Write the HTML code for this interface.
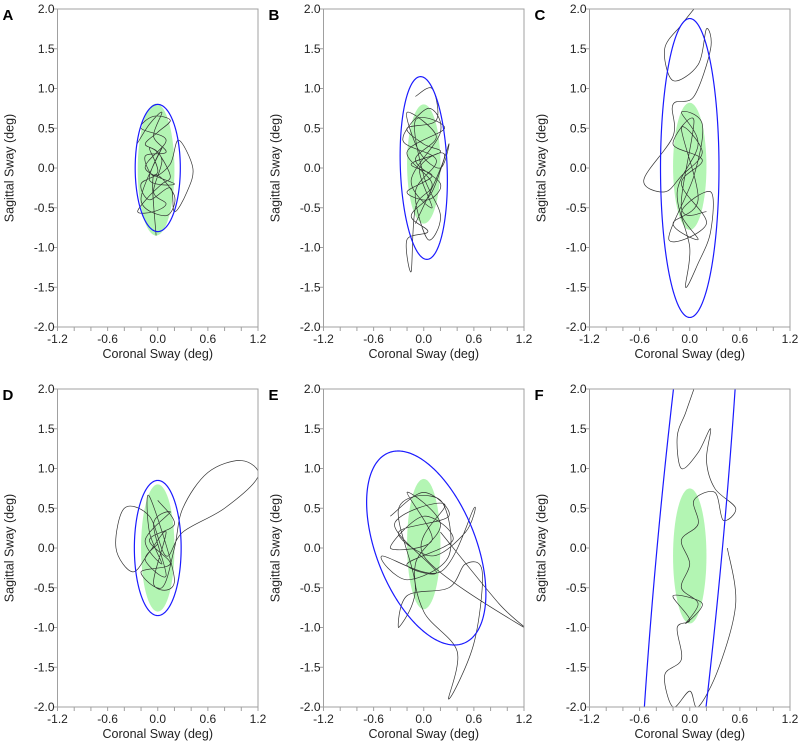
<!DOCTYPE html>
<html><head><meta charset="utf-8"><style>
html,body{margin:0;background:#fff;overflow:hidden;width:800px;height:749px;}
svg{display:block;font-family:"Liberation Sans",sans-serif;}
</style></head><body>
<svg id="fig" width="800" height="749"></svg>
<script>
const panelLabels=["A","B","C","D","E","F"];
const xTickLabels=["-1.2","-0.6","0.0","0.6","1.2"];
const xTickValues=[-1.2,-0.6,0,0.6,1.2];
const yTickValues=[2,1.5,1,0.5,0,-0.5,-1,-1.5,-2];
const yTickLabels=["2.0","1.5","1.0","0.5","0.0","-0.5","-1.0","-1.5","-2.0"];
// green ellipses: [cx, cy, rx, ry, angleDeg]
const greenEllipses=[[-0.02,-0.02,0.22,0.83,0],[0,0.05,0.2,0.75,0],[0,0.02,0.2,0.8,0],[0,0,0.2,0.8,0],[0,0.05,0.2,0.82,0],[0,-0.1,0.2,0.85,0]];
// blue 95% ellipses: [cx, cy, rx, ry, angleDeg]
const blueEllipses=[[0,0,0.27,0.8,0],[0,0,0.28,1.15,2],[0,0,0.35,1.88,0],[0,0,0.28,0.85,0],[0.03,0,0.6,1.28,20],[0,0,0.39,6,-5]];
const traceA=[[-0.25,0.3],[-0.1,0.55],[0.05,0.7],[-0.05,0.4],[0.1,0.2],[-0.15,0.15],[-0.05,-0.1],[0.15,0.05],[0.25,0.35],[0.42,0.0],[0.35,-0.3],[0.2,-0.55],[0.15,-0.25],[-0.1,-0.4],[-0.2,-0.2],[0.0,-0.05],[-0.1,0.25],[0.05,0.1],[-0.05,-0.3],[0.1,-0.45],[-0.05,-0.55],[-0.24,-0.55],[-0.1,-0.35],[0.05,-0.2],[0.15,-0.1],[0.0,0.2],[-0.15,0.3],[0.0,0.45],[0.15,0.6],[-0.05,0.65],[-0.2,0.5],[0.1,0.35],[-0.15,0.0],[0.2,-0.2],[-0.1,-0.15],[0.05,0.25],[-0.2,-0.4],[0.1,-0.6],[0.2,-0.35],[-0.05,-0.1],[-0.02,-0.85]];
const traceB=[[-0.1,0.9],[0.1,1.0],[0.15,0.6],[-0.2,0.5],[0.0,0.3],[0.2,0.2],[-0.15,0.05],[0.1,-0.1],[-0.2,-0.3],[0.05,-0.4],[0.2,-0.2],[-0.1,0.1],[0.15,0.4],[-0.2,0.7],[-0.05,0.2],[0.2,0.0],[0.3,0.3],[0.1,-0.3],[-0.15,-0.6],[0.05,-0.8],[-0.2,-0.9],[-0.15,-1.3],[-0.1,-0.5],[0.1,-0.2],[-0.2,0.2],[0.25,0.5],[-0.1,0.6],[0.0,-0.1],[0.2,-0.6],[0.05,-0.9],[-0.1,-0.3],[0.15,0.1],[-0.25,0.35],[0.05,0.75],[0.2,0.45],[-0.15,-0.15],[0.1,-0.5],[-0.05,0.0],[0.25,0.15],[-0.1,-0.7]];
const traceC=[[0.05,2.0],[-0.1,1.8],[-0.3,1.5],[-0.2,1.1],[0.1,1.3],[0.2,1.75],[0.25,1.5],[0.05,0.9],[-0.2,0.8],[-0.2,0.4],[-0.55,-0.15],[-0.3,-0.3],[-0.1,-0.1],[0.15,0.2],[-0.1,0.5],[0.1,-0.4],[-0.2,-0.7],[0.1,-0.9],[-0.1,-0.55],[0.25,-0.3],[0.25,-0.8],[0.1,-1.2],[-0.05,-1.5],[0.0,-1.0],[-0.15,-0.3],[0.1,0.3],[-0.1,0.7],[0.15,0.55],[0.05,-0.1],[-0.25,-0.9],[0.2,-0.7],[-0.1,-0.2],[0.15,0.1],[-0.2,0.3],[0.05,0.6],[-0.1,-0.5],[0.2,-0.55]];
const traceD=[[0.0,0.6],[0.2,0.3],[-0.1,0.1],[0.15,-0.2],[-0.2,-0.3],[0.05,-0.5],[0.2,0.0],[0.3,0.5],[0.6,0.95],[1.0,1.1],[1.2,0.9],[0.8,0.5],[0.3,0.2],[0.1,-0.1],[-0.1,0.4],[-0.4,0.5],[-0.5,0.0],[-0.3,-0.3],[-0.1,-0.05],[0.1,0.2],[-0.05,-0.45],[0.2,-0.4],[-0.1,0.65],[-0.1,0.2],[0.05,-0.2],[-0.15,0.1],[0.15,0.45],[-0.05,0.3],[0.1,-0.35],[-0.15,-0.15],[0.0,0.05]];
const traceE=[[-0.4,0.4],[0.0,0.7],[0.3,0.4],[-0.3,0.2],[0.1,-0.1],[0.5,0.2],[0.6,0.5],[0.2,-0.3],[-0.5,-0.1],[-0.2,-0.4],[0.3,-0.1],[0.2,0.6],[-0.3,0.5],[-0.1,-0.5],[-0.3,-1.0],[-0.2,-0.6],[0.3,-0.5],[0.5,-0.2],[0.7,-0.3],[0.6,-1.2],[0.3,-1.9],[0.4,-1.3],[0.0,-0.8],[-0.1,-0.2],[0.2,0.3],[-0.2,0.7],[0.1,0.1],[-0.4,0.0],[0.0,0.4],[0.35,0.1],[-0.2,-0.2],[0.15,-0.3],[-0.35,0.3],[0.25,0.55],[0.0,-0.1],[1.2,-1.0],[0.9,-0.7],[0.2,0.2]];
const traceF=[[0.05,2.0],[-0.05,1.7],[-0.15,1.4],[-0.1,1.0],[0.1,1.2],[0.25,1.5],[0.2,1.1],[0.3,0.75],[0.55,0.5],[0.4,0.35],[0.3,0.7],[0.05,0.6],[0.1,0.3],[-0.1,0.1],[0.0,-0.2],[-0.1,-0.5],[0.1,-0.7],[-0.05,-0.95],[0.15,-0.7],[-0.2,-0.6],[0.0,-0.9],[-0.15,-1.0],[-0.1,-1.4],[-0.3,-1.6],[-0.2,-2.0],[0.0,-1.8],[0.1,-2.0],[0.35,-1.5],[0.55,-0.7],[0.45,0.0]];
const traces=[traceA,traceB,traceC,traceD,traceE,traceF];

const NS="http://www.w3.org/2000/svg";
const svg=document.getElementById('fig');
function mk(t,a,p){const e=document.createElementNS(NS,t);for(const k in a)e.setAttribute(k,a[k]);(p||svg).appendChild(e);return e;}
const PW=200.5,PH=318;
for(let i=0;i<6;i++){
  const L=57.5+(i%3)*266, T=9+Math.floor(i/3)*380;
  const xs=v=>L+(v+1.2)/2.4*PW, ys=v=>T+(2-v)/4*PH;
  const g=mk('g',{});
  
  
  const cp=mk('clipPath',{id:'c'+i},g);mk('rect',{x:L,y:T,width:PW,height:PH},cp);
  const pl=mk('g',{'clip-path':'url(#c'+i+')'},g);
  const ge=greenEllipses[i];
  const ell=mk('ellipse',{cx:xs(ge[0]),cy:ys(ge[1]),rx:ge[2]/2.4*PW,ry:ge[3]/4*PH,fill:'#b3f5b3',transform:`rotate(${-ge[4]} ${xs(ge[0])} ${ys(ge[1])})`},pl);
  
  
  const tr=traces[i];
  let d='M'+xs(tr[0][0])+' '+ys(tr[0][1]);
  for(let k=1;k<tr.length;k++){const p0=tr[Math.max(0,k-2)],p1=tr[k-1],p2=tr[k],p3=tr[Math.min(tr.length-1,k+1)];
    d+=` C${xs(p1[0]+(p2[0]-p0[0])/6)} ${ys(p1[1]+(p2[1]-p0[1])/6)} ${xs(p2[0]-(p3[0]-p1[0])/6)} ${ys(p2[1]-(p3[1]-p1[1])/6)} ${xs(p2[0])} ${ys(p2[1])}`;}
  const path=mk('path',{d:d,fill:'none',stroke:'#333',"stroke-width":0.7},pl);
  
  
  const be=blueEllipses[i];
  let bd='';
  for(let k=0;k<=360;k++){const t=k*Math.PI/180,a=be[4]*Math.PI/180;
    const ux=be[2]*Math.cos(t), uy=be[3]*Math.sin(t);
    const x=be[0]+ux*Math.cos(a)-uy*Math.sin(a), y=be[1]+ux*Math.sin(a)+uy*Math.cos(a);
    bd+=(k?'L':'M')+xs(x).toFixed(2)+' '+ys(y).toFixed(2);}
  const bl=mk('path',{d:bd,fill:'none',stroke:'#1a1aff',"stroke-width":1.2},pl);
  
  
  mk('rect',{x:L,y:T,width:PW,height:PH,fill:'none',stroke:'#a0a0a0'},g);
  for(let v=-1.2;v<=1.21;v+=0.2){mk('line',{x1:xs(v),x2:xs(v),y1:T+PH,y2:T+PH+4,stroke:'#a0a0a0'},g);}
  xTickValues.forEach((v,k)=>{const t=mk('text',{x:xs(v),y:T+PH+16,'font-size':12,'text-anchor':'middle',fill:'#222'},g);t.textContent=xTickLabels[k];
    });
  yTickValues.forEach((v,k)=>{mk('line',{x1:L-4,x2:L,y1:ys(v),y2:ys(v),stroke:'#a0a0a0'},g);
    const t=mk('text',{x:L-3,y:ys(v)+4,'font-size':12,'text-anchor':'end',fill:'#222'},g);t.textContent=yTickLabels[k];
    });
  const xt=mk('text',{x:L+PW/2,y:T+PH+31,'font-size':12.5,'text-anchor':'middle',fill:'#222'},g);xt.textContent='Coronal Sway (deg)';
  
  const yt=mk('text',{x:0,y:0,'font-size':12.5,'text-anchor':'middle',fill:'#222',transform:`translate(${L-44} ${T+PH/2}) rotate(-90)`},g);yt.textContent='Sagittal Sway (deg)';
  
  const pt=mk('text',{x:L-55,y:T+11,'font-size':15,'font-weight':'bold',fill:'#000'},g);pt.textContent=panelLabels[i];
  
}
</script>
</body></html>
